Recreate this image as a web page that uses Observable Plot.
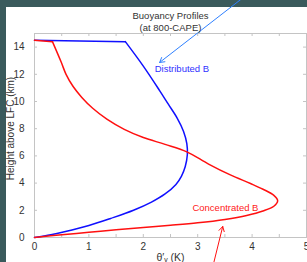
<!DOCTYPE html>
<html>
<head>
<meta charset="utf-8">
<script src="https://cdn.jsdelivr.net/npm/d3@7"></script>
<script src="https://cdn.jsdelivr.net/npm/@observablehq/plot@0.6"></script>
<style>
  html, body { margin: 0; padding: 0; }
  body { width: 307px; height: 262px; background: #3a5a5c; position: relative; overflow: hidden; font-family: "Liberation Sans", Arial, sans-serif; }
  #panel { position: absolute; left: 6px; top: 7px; right: 0; bottom: 0; background: #ffffff; }
  #chart { position: absolute; left: 0; top: 0; }
</style>
</head>
<body>
<div id="panel"></div>
<div id="chart"></div>
<script>
// ---- data ----
const titleLines = ["Buoyancy Profiles", "(at 800-CAPE)"];
const xLabel = "θ′ᵥ (K)";
const yLabel = "Height above LFC (km)";
const xTicks = [0, 1, 2, 3, 4, 5];
const xMinorTicks = [0, 0.5, 1, 1.5, 2, 2.5, 3, 3.5, 4, 4.5, 5];
const yTicks = [0, 2, 4, 6, 8, 10, 12, 14];

// Distributed B (blue): smooth body, then flat cap at the top
const distX = [0, 0.3, 0.55, 1.0, 1.4, 1.82, 2.15, 2.4, 2.6, 2.7, 2.77, 2.81, 2.8, 2.74, 2.62, 2.46, 2.3, 2.0, 1.67];
const distY = [0, 0.2, 0.42, 0.88, 1.4, 2.0, 2.6, 3.2, 3.9, 4.5, 5.2, 6.1, 6.9, 7.8, 8.8, 9.8, 10.8, 12.6, 14.4];
const distCapX = [1.67, 0];
const distCapY = [14.4, 14.5];

// Concentrated B (red)
const concX = [0, 0.5, 1.0, 1.5, 2.0, 2.5, 3.0, 3.5, 3.9, 4.2, 4.4, 4.47, 4.4, 4.2, 3.97, 3.6, 3.2, 2.8, 2.4, 2.0, 1.65, 1.33, 1.07, 0.87, 0.71, 0.58, 0.49, 0.33];
const concY = [0, 0.2, 0.38, 0.57, 0.74, 0.9, 1.08, 1.33, 1.62, 1.95, 2.3, 2.7, 3.1, 3.55, 3.97, 4.6, 5.4, 6.3, 6.85, 7.35, 7.95, 8.7, 9.5, 10.3, 11.1, 12.0, 12.9, 14.4];
const concCapX = [0.33, 0];
const concCapY = [14.4, 14.5];

// annotations
const labelNames = ["Distributed B", "Concentrated B"];
const labelX = [2.71, 3.51];
const labelY = [12.4, 2.2];
const arrowX1 = [3.92, 3.28];
const arrowY1 = [17.9, -2.1];
const arrowX2 = [2.30, 3.46];
const arrowY2 = [12.87, 0.81];

// ---- build ----
const pts = (xs, ys) => xs.map((x, i) => ({x, y: ys[i]}));
const dist = pts(distX, distY), distCap = pts(distCapX, distCapY);
const conc = pts(concX, concY), concCap = pts(concCapX, concCapY);
const labels = labelNames.map((t, i) => ({t, x: labelX[i], y: labelY[i]}));
const arrows = labelNames.map((t, i) => ({t, x1: arrowX1[i], y1: arrowY1[i], x2: arrowX2[i], y2: arrowY2[i]}));

const W = 307, H = 262, mL = 34, mR = 1, mT = 33, mB = 25;
const fw = W - mL - mR, fh = H - mT - mB;
const frameColor = "#c4c4c4";
const textColor = "#333333";
const blue = "#1010ff", red = "#ff1010";

const chart = Plot.plot({
  width: W, height: H,
  marginLeft: mL, marginRight: mR, marginTop: mT, marginBottom: mB,
  style: {background: "transparent", overflow: "visible", fontFamily: "'Liberation Sans', Arial, sans-serif", fontSize: "10px", color: textColor},
  x: {domain: [0, 5]},
  y: {domain: [0, 15]},
  marks: [
    Plot.frame({stroke: frameColor}),
    // ticks (inward)
    Plot.ruleX(xMinorTicks, {x: d => d, insetTop: fh - 3, stroke: frameColor}),
    Plot.ruleX(xMinorTicks, {x: d => d, insetBottom: fh - 3, stroke: frameColor}),
    Plot.ruleY(yTicks, {y: d => d, insetRight: fw - 3, stroke: frameColor}),
    Plot.ruleY(yTicks, {y: d => d, insetLeft: fw - 3, stroke: frameColor}),
    Plot.axisX({ticks: xTicks, tickSize: 0, tickPadding: 5, tickFormat: d => String(d), label: null, fill: textColor}),
    Plot.axisY({ticks: yTicks, tickSize: 0, tickPadding: 10, tickFormat: d => String(d), label: null, fill: textColor}),
    // curves
    Plot.line(dist, {x: "x", y: "y", stroke: blue, strokeWidth: 1.5, curve: "catmull-rom"}),
    Plot.line(distCap, {x: "x", y: "y", stroke: blue, strokeWidth: 1.5}),
    Plot.line(conc, {x: "x", y: "y", stroke: red, strokeWidth: 1.5, curve: "catmull-rom"}),
    Plot.line(concCap, {x: "x", y: "y", stroke: red, strokeWidth: 1.5}),
    // annotations
    Plot.text(labels, {x: "x", y: "y", text: "t", fill: (d, i) => i === 0 ? "#3030ff" : "#ff2020", fontSize: 9.5}),
    Plot.arrow(arrows, {x1: "x1", y1: "y1", x2: "x2", y2: "y2", stroke: (d, i) => i === 0 ? "#2f80ff" : "#ff1010", strokeWidth: 1, headLength: 8, bend: 0}),
    // titles and axis labels
    Plot.text([titleLines[0]], {frameAnchor: "top", dy: -21, text: d => d, fill: textColor, fontSize: 9.5}),
    Plot.text([titleLines[1]], {frameAnchor: "top", dy: -9, text: d => d, fill: textColor, fontSize: 9.5}),
    Plot.text([xLabel], {frameAnchor: "bottom", dy: 23, text: d => d, fill: textColor, fontSize: 10.5}),
    Plot.text([yLabel], {frameAnchor: "left", textAnchor: "middle", dx: -24, dy: -7, rotate: -90, text: d => d, fill: textColor, fontSize: 10})
  ]
});
document.getElementById("chart").appendChild(chart);
</script>
</body>
</html>
